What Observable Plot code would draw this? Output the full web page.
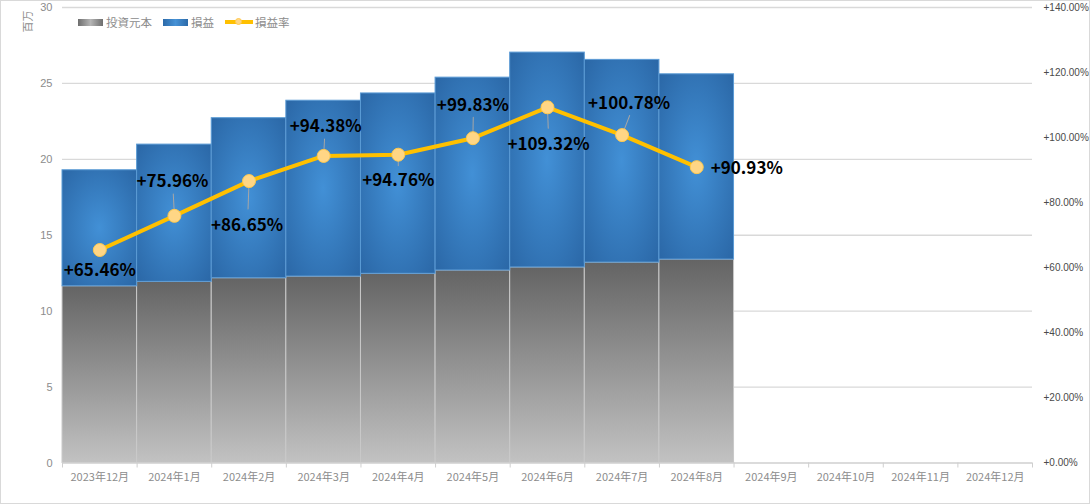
<!DOCTYPE html>
<html>
<head>
<meta charset="utf-8">
<script src="https://cdn.jsdelivr.net/npm/d3@7"></script>
<script src="https://cdn.jsdelivr.net/npm/@observablehq/plot@0.6"></script>
<style>
  html, body { margin: 0; padding: 0; background: #fff; }
  #wrap { position: relative; width: 1090px; height: 504px; overflow: hidden; font-family: "Noto Sans CJK JP", "Noto Sans", sans-serif; }
  #border { position: absolute; left: 0; top: 0; width: 1090px; height: 504px; box-sizing: border-box; border: 1px solid #d9d9d9; pointer-events: none; }
  #unit { position: absolute; left: 16px; top: 16px; font-size: 11px; color: #8c8c8c; transform: rotate(-90deg); transform-origin: center; line-height: 1; }
  #legend { position: absolute; left: 78px; top: 14px; display: flex; align-items: center; font-size: 11.5px; color: #8c8c8c; line-height: 16px; }
  .item { display: flex; align-items: center; margin-right: 11px; }
  .sw { width: 25px; height: 7px; margin-right: 3px; }
  .sw.gray { background: linear-gradient(to right, #6e6e6e, #b5b5b5 50%, #6e6e6e); }
  .sw.blue { background: linear-gradient(to right, #2c6aa9, #4692d6 50%, #2c6aa9); }
  .sw.line { position: relative; width: 28px; height: 4px; background: #ffc000; margin-right: 2px; }
  .sw.line::after { content: ""; position: absolute; left: 10px; top: -2px; width: 7px; height: 7px; border-radius: 50%; background: #ffd685; box-sizing: border-box; border: 1px solid #ffc94d; }
</style>
</head>
<body>
<div id="wrap">
  <div id="chart"></div>
  <div id="unit">百万</div>
  <div id="legend">
    <div class="item"><div class="sw gray"></div><span>投資元本</span></div>
    <div class="item"><div class="sw blue"></div><span>損益</span></div>
    <div class="item"><div class="sw line"></div><span>損益率</span></div>
  </div>
  <div id="border"></div>
</div>
<script>
// ---- data ----
const months = ["2023年12月", "2024年1月", "2024年2月", "2024年3月", "2024年4月", "2024年5月", "2024年6月",
                "2024年7月", "2024年8月", "2024年9月", "2024年10月", "2024年11月", "2024年12月"];
const principal = [11.64, 11.93, 12.17, 12.28, 12.46, 12.68, 12.88, 13.20, 13.40];   // 投資元本 (百万)
const profit    = [7.64, 9.04, 10.54, 11.58, 11.88, 12.70, 14.15, 13.35, 12.20];     // 損益 (百万)
const rate      = [65.46, 75.96, 86.65, 94.38, 94.76, 99.83, 109.32, 100.78, 90.93]; // 損益率 (%)
const leftTicks  = [0, 5, 10, 15, 20, 25, 30];
const rightTicks = [0, 20, 40, 60, 80, 100, 120, 140];

// ---- label layout (pixel offsets from each point) ----
const labelLayout = [
  {dx: 0,  dy: 21,  anchor: "middle", len: 6,  rot: 180},
  {dx: -2, dy: -34, anchor: "middle", len: 22, rot: -3},
  {dx: -2, dy: 44,  anchor: "middle", len: 28, rot: 182},
  {dx: 2,  dy: -29, anchor: "middle", len: 17, rot: 3},
  {dx: 0,  dy: 26,  anchor: "middle", len: 11, rot: 180},
  {dx: 0,  dy: -33, anchor: "middle", len: 21, rot: 1},
  {dx: 1,  dy: 37,  anchor: "middle", len: 21, rot: 178},
  {dx: 7,  dy: -32, anchor: "middle", len: 21, rot: 21},
  {dx: 14, dy: 1,   anchor: "start",  len: 0,  rot: 0}
];

const yMax = d3.max(leftTicks), rMax = d3.max(rightTicks);
const k = yMax / rMax; // maps rate (%) onto the left-axis scale
const rows = principal.map((p, i) => ({i, month: months[i], principal: p, profit: profit[i], rate: rate[i]}));
const cx = d => d.i + 0.5;
const ry = d => d.rate * k;
const fmtPct = v => "+" + v.toFixed(2) + "%";
const gray = "#8c8c8c";
const leaderShape = {draw(ctx, l) { ctx.moveTo(0, 0); ctx.lineTo(0, -l); }};

const labelMarks = rows.flatMap((r, i) => {
  const L = labelLayout[i];
  const out = [];
  if (L.len > 0) out.push(Plot.vector([r], {x: cx, y: ry, length: L.len, rotate: L.rot, anchor: "start",
    shape: leaderShape, stroke: "#a6a6a6", strokeWidth: 1}));
  return out;
});
const textMarks = rows.map((r, i) => {
  const L = labelLayout[i];
  return Plot.text([r], {x: cx, y: ry, text: d => fmtPct(d.rate), dx: L.dx, dy: L.dy, textAnchor: L.anchor,
    fontSize: 17, fontWeight: "bold", fill: "#000", fontFamily: "'Noto Sans CJK JP', sans-serif"});
});

const svg = Plot.plot({
  width: 1090, height: 504,
  marginLeft: 62, marginRight: 58, marginTop: 7, marginBottom: 41.5,
  x: {domain: [0, months.length], axis: null, label: null},
  y: {domain: [0, yMax], axis: null, label: null},
  style: {fontFamily: "'Noto Sans CJK JP', sans-serif", background: "transparent", overflow: "visible"},
  marks: [
    Plot.ruleY(leftTicks.filter(t => t > 0), {stroke: "#d9d9d9", strokeWidth: 1.3}),
    Plot.rectY(rows, {x1: "i", x2: d => d.i + 1, y1: 0, y2: "principal", fill: "url(#gGray)", stroke: "#c9c9c9", strokeWidth: 1}),
    Plot.rectY(rows, {x1: "i", x2: d => d.i + 1, y1: "principal", y2: d => d.principal + d.profit, fill: "url(#gBlue)", stroke: "#5b9bd5", strokeWidth: 1}),
    Plot.ruleY([0], {stroke: "#cfcfcf", strokeWidth: 1.3}),
    Plot.axisX(d3.range(months.length + 1), {tickSize: 5, tickFormat: () => "", stroke: "#cfcfcf", label: null}),
    Plot.axisX(d3.range(months.length).map(i => i + 0.5), {tickSize: 0, tickPadding: 10, label: null,
      tickFormat: d => months[Math.floor(d)], fill: gray, fontSize: 11}),
    Plot.axisY(leftTicks, {tickSize: 0, tickPadding: 10, fill: gray, fontSize: 11, label: null,
      fontFamily: "'Liberation Sans', sans-serif"}),
    Plot.axisY(rightTicks.map(r => r * k), {anchor: "right", tickSize: 0, tickPadding: 11, fill: "#4a4a4a", fontSize: 10,
      label: null, fontFamily: "'Liberation Sans', sans-serif", tickFormat: v => fmtPct(Math.round(v / k))}),
    Plot.line(rows, {x: cx, y: ry, stroke: "#ffc000", strokeWidth: 4, strokeLinejoin: "round"}),
    ...labelMarks,
    Plot.dot(rows, {x: cx, y: ry, r: 6.5, fill: "#ffd685", stroke: "#ffc94d", strokeWidth: 1}),
    ...textMarks
  ]
});

const defs = d3.select(svg).insert("defs", ":first-child");
const gb = defs.append("radialGradient").attr("id", "gBlue").attr("cx", "50%").attr("cy", "50%").attr("r", "72%");
gb.append("stop").attr("offset", "0%").attr("stop-color", "#4290d6");
gb.append("stop").attr("offset", "100%").attr("stop-color", "#2a66a5");
const gg = defs.append("linearGradient").attr("id", "gGray").attr("x1", 0).attr("y1", 0).attr("x2", 0).attr("y2", 1);
gg.append("stop").attr("offset", "0%").attr("stop-color", "#646464");
gg.append("stop").attr("offset", "100%").attr("stop-color", "#c2c2c2");

document.getElementById("chart").appendChild(svg);
</script>
</body>
</html>
